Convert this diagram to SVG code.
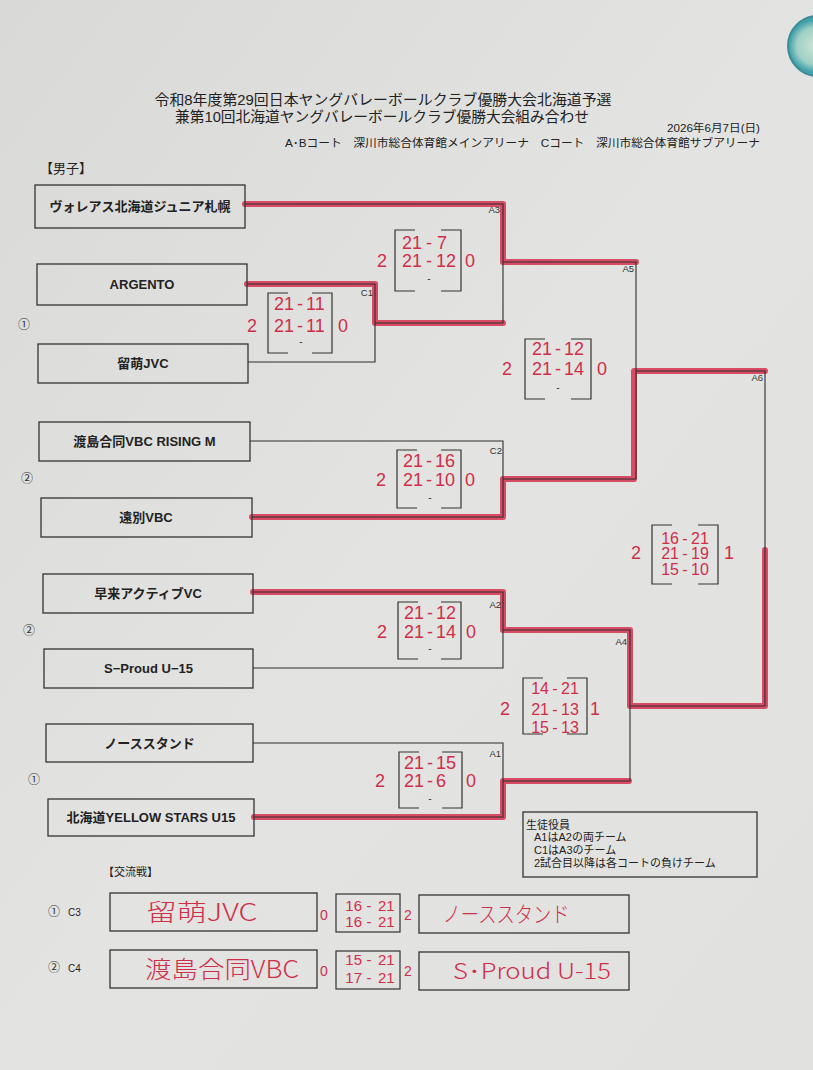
<svg xmlns="http://www.w3.org/2000/svg" width="813" height="1070" viewBox="0 0 813 1070">
<defs>
<linearGradient id="bg" x1="0" y1="0" x2="1" y2="1">
<stop offset="0" stop-color="#d9d9d7"/>
<stop offset="0.5" stop-color="#e3e3e1"/>
<stop offset="1" stop-color="#e1e1df"/>
</linearGradient>
<radialGradient id="mag" cx="0.45" cy="0.5" r="0.55">
<stop offset="0" stop-color="#cfe3d6"/>
<stop offset="0.55" stop-color="#9fd0c6"/>
<stop offset="0.8" stop-color="#3f9ea8"/>
<stop offset="1" stop-color="#6cb8bb"/>
</radialGradient>
<style>
.box{fill:none;stroke:#333;stroke-width:1.3}
.ln{fill:none;stroke:#2e2e2e;stroke-width:1.1}
.red{fill:none;stroke:#d63b56;stroke-width:6;stroke-linejoin:round;stroke-linecap:round;opacity:0.9}
.sb{fill:none;stroke:#333;stroke-width:1.2}
.team{font-family:"Liberation Sans","Noto Sans CJK JP",sans-serif;font-size:13px;font-weight:bold;fill:#222;text-anchor:middle}
.lab{font-family:"Liberation Sans",sans-serif;font-size:9.5px;fill:#333;text-anchor:end}
.cn{font-family:"Noto Sans CJK JP",sans-serif;font-size:12px;fill:#333;text-anchor:middle}
.hw{font-family:"Liberation Sans",sans-serif;font-size:18px;fill:#cf2e4a}
.hw3{font-family:"Liberation Sans",sans-serif;font-size:16px;fill:#cf2e4a}
.m{text-anchor:middle}
.e{text-anchor:end}
.pd{font-family:"Liberation Sans",sans-serif;font-size:10px;fill:#333;text-anchor:middle}
.hdr{font-family:"Liberation Sans","Noto Sans CJK JP",sans-serif;fill:#222}
.hwj{font-family:"Noto Sans CJK JP",sans-serif;font-weight:300;fill:#cf2e4a;text-anchor:middle}
</style>
</defs>
<rect x="0" y="0" width="813" height="1070" fill="url(#bg)"/>
<circle cx="818" cy="46" r="30" fill="url(#mag)" stroke="#3a8f98" stroke-width="2"/>

<g id="header">
<text class="hdr" x="383" y="105" font-size="14.5" text-anchor="middle" textLength="457" lengthAdjust="spacingAndGlyphs">令和8年度第29回日本ヤングバレーボールクラブ優勝大会北海道予選</text>
<text class="hdr" x="382" y="122" font-size="14.5" text-anchor="middle" textLength="414" lengthAdjust="spacingAndGlyphs">兼第10回北海道ヤングバレーボールクラブ優勝大会組み合わせ</text>
<text class="hdr" x="760" y="132" font-size="11" text-anchor="end" textLength="93" lengthAdjust="spacingAndGlyphs">2026年6月7日(日)</text>
<text class="hdr" x="760" y="147" font-size="11.5" text-anchor="end" textLength="475" lengthAdjust="spacingAndGlyphs">A･Bコート　深川市総合体育館メインアリーナ　Cコート　深川市総合体育館サブアリーナ</text>
<text class="hdr" x="40" y="173" font-size="13">【男子】</text>
</g>

<g id="connectors">
<path class="red" d="M245,204 H503 V262 H636"/>
<path class="red" d="M247,284 H375 V323 H503"/>
<path class="red" d="M252,517 H503 V479 H634 V371 H765"/>
<path class="red" d="M765,550 V706 H630 V630 H503 V592 H253"/>
<path class="red" d="M254,817 H503 V781 H629"/>
<path class="ln" d="M245,204 H503 V323 M247,284 H375 V362 H248 M375,323 H503 M503,262 H636 V479 M250,441 H503 V517 H252 M503,479 H636 M636,371 H765 V706 M253,592 H503 V668 H253 M503,630 H630 V781 M253,743 H503 V817 H254 M503,781 H630 M630,706 H765"/>
<text class="lab" x="373" y="296">C1</text>
<text class="lab" x="500" y="213">A3</text>
<text class="lab" x="634" y="272">A5</text>
<text class="lab" x="763" y="381">A6</text>
<text class="lab" x="502" y="454">C2</text>
<text class="lab" x="501" y="608">A2</text>
<text class="lab" x="627" y="645">A4</text>
<text class="lab" x="501" y="757">A1</text>
</g>

<g id="circled">
<text class="cn" x="24" y="329">①</text>
<text class="cn" x="27" y="483">②</text>
<text class="cn" x="29" y="635">②</text>
<text class="cn" x="34" y="784">①</text>
</g>

<g id="team1"><rect class="box" x="35" y="185" width="210" height="43"/><text class="team" x="140" y="211">ヴォレアス北海道ジュニア札幌</text></g>
<g id="team2"><rect class="box" x="37" y="264" width="210" height="41"/><text class="team" x="142" y="289">ARGENTO</text></g>
<g id="team3"><rect class="box" x="38" y="344" width="210" height="39"/><text class="team" x="143" y="368">留萌JVC</text></g>
<g id="team4"><rect class="box" x="39" y="422" width="211" height="39"/><text class="team" x="144.5" y="446">渡島合同VBC RISING M</text></g>
<g id="team5"><rect class="box" x="41" y="498" width="211" height="39"/><text class="team" x="146" y="522">遠別VBC</text></g>
<g id="team6"><rect class="box" x="43" y="574" width="210" height="39"/><text class="team" x="148" y="598">早来アクティブVC</text></g>
<g id="team7"><rect class="box" x="44" y="649" width="209" height="39"/><text class="team" x="148.5" y="673">S−Proud U−15</text></g>
<g id="team8"><rect class="box" x="46" y="724" width="207" height="38"/><text class="team" x="149.5" y="748">ノーススタンド</text></g>
<g id="team9"><rect class="box" x="48" y="799" width="206" height="37"/><text class="team" x="151" y="822">北海道YELLOW STARS U15</text></g>

<g id="scoreC1">
<path class="sb" d="M288,293 H268 V353 H288 M312,293 H332 V353 H312"/>
<text class="pd" x="301" y="345">-</text>
<text class="hw e" x="294" y="309.5">21</text><text class="hw m" x="300" y="309.5">-</text><text class="hw" x="306" y="309.5">11</text>
<text class="hw e" x="294" y="331.5">21</text><text class="hw m" x="300" y="331.5">-</text><text class="hw" x="306" y="331.5">11</text>
<text class="hw m" x="252" y="331.5">2</text><text class="hw m" x="343" y="331.5">0</text>
</g>
<g id="scoreA3">
<path class="sb" d="M415,230 H395 V291 H415 M441,230 H461 V291 H441"/>
<text class="pd" x="429" y="282">-</text>
<text class="hw e" x="422" y="248.5">21</text><text class="hw m" x="429" y="248.5">-</text><text class="hw" x="437" y="248.5">7</text>
<text class="hw e" x="422" y="266.5">21</text><text class="hw m" x="429" y="266.5">-</text><text class="hw" x="436" y="266.5">12</text>
<text class="hw m" x="382" y="266.5">2</text><text class="hw m" x="470" y="266.5">0</text>
</g>
<g id="scoreA5">
<path class="sb" d="M545,339 H525 V399 H545 M571,339 H591 V399 H571"/>
<text class="pd" x="558" y="391">-</text>
<text class="hw e" x="552" y="354.5">21</text><text class="hw m" x="558" y="354.5">-</text><text class="hw" x="564" y="354.5">12</text>
<text class="hw e" x="552" y="374.5">21</text><text class="hw m" x="558" y="374.5">-</text><text class="hw" x="564" y="374.5">14</text>
<text class="hw m" x="507" y="374.5">2</text><text class="hw m" x="602" y="374.5">0</text>
</g>
<g id="scoreC2">
<path class="sb" d="M417,450 H397 V508 H417 M441,450 H461 V508 H441"/>
<text class="pd" x="430" y="501">-</text>
<text class="hw e" x="423" y="466.5">21</text><text class="hw m" x="429" y="466.5">-</text><text class="hw" x="435" y="466.5">16</text>
<text class="hw e" x="423" y="485.5">21</text><text class="hw m" x="429" y="485.5">-</text><text class="hw" x="435" y="485.5">10</text>
<text class="hw m" x="381" y="485.5">2</text><text class="hw m" x="470" y="485.5">0</text>
</g>
<g id="scoreA6">
<path class="sb" d="M672,525 H652 V584 H672 M698,525 H718 V584 H698"/>
<text class="hw3 e" x="679" y="544">16</text><text class="hw3 m" x="685" y="544">-</text><text class="hw3" x="691" y="544">21</text>
<text class="hw3 e" x="679" y="559">21</text><text class="hw3 m" x="685" y="559">-</text><text class="hw3" x="691" y="559">19</text>
<text class="hw3 e" x="679" y="575">15</text><text class="hw3 m" x="685" y="575">-</text><text class="hw3" x="691" y="575">10</text>
<text class="hw m" x="636" y="559">2</text><text class="hw m" x="729" y="559">1</text>
</g>
<g id="scoreA2">
<path class="sb" d="M418,602 H398 V659 H418 M441,602 H461 V659 H441"/>
<text class="pd" x="430" y="652">-</text>
<text class="hw e" x="424" y="618.5">21</text><text class="hw m" x="430" y="618.5">-</text><text class="hw" x="436" y="618.5">12</text>
<text class="hw e" x="424" y="637.5">21</text><text class="hw m" x="430" y="637.5">-</text><text class="hw" x="436" y="637.5">14</text>
<text class="hw m" x="382" y="637.5">2</text><text class="hw m" x="471" y="637.5">0</text>
</g>
<g id="scoreA4">
<path class="sb" d="M543,678 H523 V734 H543 M567,678 H587 V734 H567"/>
<text class="hw3 e" x="549" y="694">14</text><text class="hw3 m" x="555" y="694">-</text><text class="hw3" x="561" y="694">21</text>
<text class="hw3 e" x="549" y="715">21</text><text class="hw3 m" x="555" y="715">-</text><text class="hw3" x="561" y="715">13</text>
<text class="hw3 e" x="549" y="733">15</text><text class="hw3 m" x="555" y="733">-</text><text class="hw3" x="561" y="733">13</text>
<text class="hw m" x="505" y="715">2</text><text class="hw m" x="595" y="715">1</text>
</g>
<g id="scoreA1">
<path class="sb" d="M419,752 H399 V808 H419 M442,752 H462 V808 H442"/>
<text class="pd" x="430" y="802">-</text>
<text class="hw e" x="424" y="768.5">21</text><text class="hw m" x="430" y="768.5">-</text><text class="hw" x="436" y="768.5">15</text>
<text class="hw e" x="424" y="786.5">21</text><text class="hw m" x="430" y="786.5">-</text><text class="hw" x="436" y="786.5">6</text>
<text class="hw m" x="380" y="786.5">2</text><text class="hw m" x="471" y="786.5">0</text>
</g>

<g id="note">
<rect class="box" x="523" y="812" width="234" height="65"/>
<text class="hdr" x="526" y="829" font-size="11">生徒役員</text>
<text class="hdr" x="534" y="841" font-size="11">A1はA2の両チーム</text>
<text class="hdr" x="534" y="854" font-size="11">C1はA3のチーム</text>
<text class="hdr" x="534" y="867" font-size="11">2試合目以降は各コートの負けチーム</text>
</g>

<g id="exchange-title"><text class="hdr" x="103" y="876" font-size="11">【交流戦】</text></g>

<g id="exC3">
<text class="cn" x="54" y="916" font-size="11">①</text>
<text class="hdr" x="68" y="916" font-size="10">C3</text>
<rect class="box" x="110" y="893" width="207" height="38"/>
<text class="hwj" x="202" y="921" font-size="24" textLength="111" lengthAdjust="spacingAndGlyphs">留萌JVC</text>
<text class="hw m" x="324" y="920" style="font-size:14px">0</text>
<rect class="sb" x="336" y="894" width="64" height="38"/>
<text class="hw3 e" x="362" y="911" style="font-size:15px">16</text><text class="hw3 m" x="369" y="911" style="font-size:15px">-</text><text class="hw3" x="378" y="911" style="font-size:15px">21</text>
<text class="hw3 e" x="362" y="927" style="font-size:15px">16</text><text class="hw3 m" x="369" y="927" style="font-size:15px">-</text><text class="hw3" x="378" y="927" style="font-size:15px">21</text>
<text class="hw m" x="408" y="920" style="font-size:14px">2</text>
<rect class="box" x="419" y="895" width="210" height="38"/>
<text class="hwj" x="506" y="922" font-size="22" textLength="127" lengthAdjust="spacingAndGlyphs">ノーススタンド</text>
</g>

<g id="exC4">
<text class="cn" x="54" y="972" font-size="11">②</text>
<text class="hdr" x="68" y="972" font-size="10">C4</text>
<rect class="box" x="110" y="950" width="207" height="38"/>
<text class="hwj" x="222" y="978" font-size="24" textLength="154" lengthAdjust="spacingAndGlyphs">渡島合同VBC</text>
<text class="hw m" x="324" y="976" style="font-size:14px">0</text>
<rect class="sb" x="336" y="951" width="64" height="38"/>
<text class="hw3 e" x="362" y="965" style="font-size:15px">15</text><text class="hw3 m" x="369" y="965" style="font-size:15px">-</text><text class="hw3" x="378" y="965" style="font-size:15px">21</text>
<text class="hw3 e" x="362" y="983" style="font-size:15px">17</text><text class="hw3 m" x="369" y="983" style="font-size:15px">-</text><text class="hw3" x="378" y="983" style="font-size:15px">21</text>
<text class="hw m" x="408" y="976" style="font-size:14px">2</text>
<rect class="box" x="419" y="952" width="210" height="38"/>
<text class="hwj" x="532" y="979" font-size="22" textLength="158" lengthAdjust="spacingAndGlyphs">S･Proud U-15</text>
</g>
</svg>
